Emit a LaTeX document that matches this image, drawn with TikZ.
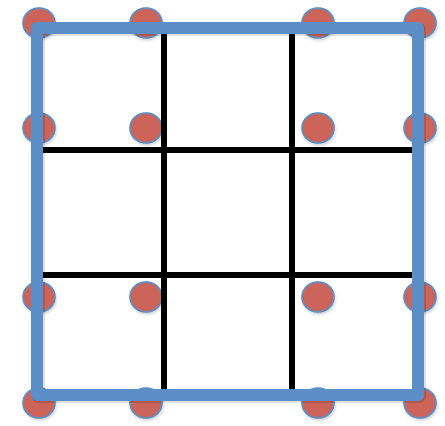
\documentclass[tikz,border=0pt]{standalone}
\usepackage{tikz}
\usepackage{xcolor}
\usetikzlibrary{shapes.geometric,shadows.blur}
\definecolor{frame}{HTML}{5B8EC7}
\definecolor{dotred}{HTML}{CC6459}
\definecolor{ink}{HTML}{000000}
\tikzset{
  dot/.style={ellipse,draw=frame,line width=0.9pt,fill=dotred,minimum width=0.64cm,minimum height=0.60cm,inner sep=0pt,blur shadow={shadow xshift=0.5pt,shadow yshift=-1pt,shadow blur steps=4,shadow opacity=25}},
  gridline/.style={draw=ink,line width=3.2pt},
  border/.style={draw=frame,line width=6.6pt,line join=round},
  bordershade/.style={draw=black,opacity=0.12,line width=7.4pt,line join=round}
}
\begin{document}
\begin{tikzpicture}[x=0.02cm,y=-0.02cm]
    \useasboundingbox (0,0) rectangle (445,425);
    % corner points of the frame
    \coordinate (nw) at (37,28);
    \coordinate (se) at (418,395);

    % dots
    \foreach \px/\i in {39/1,146/2,318/3,420/4}{
      \foreach \py/\j in {23/1,128/2,297/3,403/4}{
        \node[dot] (dot-\i-\j) at (\px,\py) {};
      }
    }

    % inner grid
    \draw[gridline] (164,28) -- (164,395);
    \draw[gridline] (292,28) -- (292,395);
    \draw[gridline] (37,150) -- (418,150);
    \draw[gridline] (37,275) -- (418,275);

    % frame
    \draw[bordershade] ([shift={(1,1.5)}]nw) rectangle ([shift={(1,1.5)}]se);
    \draw[border] (nw) rectangle (se);
  \end{tikzpicture}
\end{document}
